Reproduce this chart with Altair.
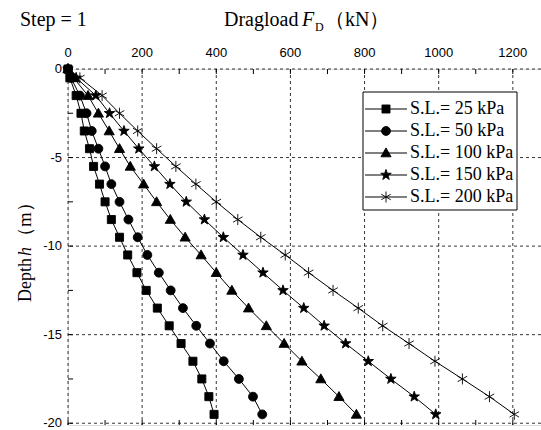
import math
import altair as alt
import pandas as pd

# ---------------- data ----------------
depth = [0, -0.5, -1.5, -2.5, -3.5, -4.5, -5.5, -6.5, -7.5, -8.5, -9.5,
         -10.5, -11.5, -12.5, -13.5, -14.5, -15.5, -16.5, -17.5, -18.5, -19.5]
sl_25 = [0, 5, 22, 35, 44, 58, 69, 85, 100, 117, 139,
         161, 186, 211, 241, 273, 305, 337, 361, 380, 394]
sl_50 = [0, 8, 32, 50, 64, 82, 100, 117, 139, 163, 188,
         214, 245, 277, 310, 346, 383, 420, 461, 499, 524]
sl_100 = [0, 15, 54, 82, 111, 139, 168, 204, 239, 276, 316,
          359, 400, 442, 487, 535, 583, 631, 682, 731, 778]
sl_150 = [0, 22, 75, 112, 151, 191, 233, 275, 319, 368, 419,
          472, 526, 580, 636, 691, 749, 810, 871, 934, 992]
sl_200 = [0, 32, 92, 139, 188, 239, 291, 345, 400, 458, 520,
          586, 649, 715, 783, 849, 920, 990, 1064, 1137, 1204]
labels = ["S.L.= 25 kPa", "S.L.= 50 kPa", "S.L.= 100 kPa",
          "S.L.= 150 kPa", "S.L.= 200 kPa"]
x_ticks_major = [0, 200, 400, 600, 800, 1000, 1200]
x_ticks_minor = list(range(0, 1201, 100))
y_ticks_major = [0, -5, -10, -15, -20]
y_ticks_minor = [0, -2.5, -5, -7.5, -10, -12.5, -15, -17.5, -20]

rows = []
for lab, vals in zip(labels, [sl_25, sl_50, sl_100, sl_150, sl_200]):
    for d, v in zip(depth, vals):
        rows.append({"series": lab, "F": v, "h": d})
df = pd.DataFrame(rows)

# ---------------- marker shapes ----------------
def star_path(R=1.3, r=0.52):
    pts = []
    for k in range(10):
        a = -math.pi / 2 + k * math.pi / 5
        rad = R if k % 2 == 0 else r
        pts.append(f"{rad*math.cos(a):.3f},{rad*math.sin(a):.3f}")
    return "M" + "L".join(pts) + "Z"

sq = "M-0.95,-0.95H0.95V0.95H-0.95Z"
circ = "M-1.05,0A1.05,1.05,0,1,1,1.05,0A1.05,1.05,0,1,1,-1.05,0Z"
tri = "M0,-1.2L1.2,0.9L-1.2,0.9Z"
star = star_path()
c30, s30 = 1.3 * math.cos(math.pi / 6), 1.3 * math.sin(math.pi / 6)
ast = (f"M0,-1.3V1.3M{-c30:.3f},{-s30:.3f}L{c30:.3f},{s30:.3f}"
       f"M{-c30:.3f},{s30:.3f}L{c30:.3f},{-s30:.3f}")
marker_paths = [sq, circ, tri, star, ast]

W, H = 473, 356
L, T = 68, 69
x_scale = alt.Scale(domain=[0, 1276], nice=False, zero=False)
y_scale = alt.Scale(domain=[-20.1, 0], nice=False, zero=False)


def X(field):
    return alt.X(field, scale=x_scale, axis=None)


def Y(field):
    return alt.Y(field, scale=y_scale, axis=None)


# ---------------- grid, ticks and tick labels (drawn through the scales) ----------------
xg = pd.DataFrame({"t": x_ticks_major, "lab": [str(v) for v in x_ticks_major]})
yg = pd.DataFrame({"t": y_ticks_major, "lab": [str(v) for v in y_ticks_major]})
xt = pd.DataFrame({"t": x_ticks_minor})
yt = pd.DataFrame({"t": y_ticks_minor})

grid_x = alt.Chart(xg).mark_rule(color="black", strokeWidth=0.8,
                                 strokeDash=[3, 3]).encode(x=X("t:Q"))
grid_y = alt.Chart(yg).mark_rule(color="black", strokeWidth=0.8,
                                 strokeDash=[3, 3]).encode(y=Y("t:Q"))
top_ticks = alt.Chart(xt).mark_rule(color="black", strokeWidth=1).encode(
    x=X("t:Q"), y=alt.value(0), y2=alt.value(5))
bot_ticks = alt.Chart(xt).mark_rule(color="black", strokeWidth=1).encode(
    x=X("t:Q"), y=alt.value(H), y2=alt.value(H - 5))
left_ticks = alt.Chart(yt).mark_rule(color="black", strokeWidth=1).encode(
    y=Y("t:Q"), x=alt.value(0), x2=alt.value(5))
x_labels = alt.Chart(xg).mark_text(font="Liberation Sans", fontSize=13,
                                   color="black", baseline="middle",
                                   align="center").encode(
    x=X("t:Q"), y=alt.value(-16), text="lab:N")
y_labels = alt.Chart(yg).mark_text(font="Liberation Sans", fontSize=13,
                                   color="black", baseline="middle",
                                   align="right").encode(
    y=Y("t:Q"), x=alt.value(-6), text="lab:N")

# ---------------- data series ----------------
base = alt.Chart(df)
lines = base.mark_line(color="black", strokeWidth=1).encode(
    x=X("F:Q"), y=Y("h:Q"), detail="series:N",
    order=alt.Order("h:Q", sort="descending"))
points = base.mark_point(fill="black", stroke="black", strokeWidth=0.9,
                         size=72, opacity=1).encode(
    x=X("F:Q"), y=Y("h:Q"),
    shape=alt.Shape("series:N", scale=alt.Scale(domain=labels, range=marker_paths),
                    legend=None))

one = pd.DataFrame({"k": [0]})


def txt(s, x, y, size=18, style="normal", angle=0, font="Liberation Serif",
        baseline="alphabetic"):
    kw = dict(text=s, font=font, fontSize=size, fontStyle=style, color="black",
              align="left", baseline=baseline)
    if angle:
        kw["angle"] = angle
    return alt.Chart(one).mark_text(**kw).encode(x=alt.value(x), y=alt.value(y))


# ---------------- legend (box, line + marker, label) ----------------
lg_box = alt.Chart(one).mark_rect(fill="white", stroke="black", strokeWidth=1).encode(
    x=alt.value(363 - L), x2=alt.value(517 - L), y=alt.value(92 - T), y2=alt.value(210 - T))
legend_layers = [lg_box]
row_y = [109, 131, 153, 175, 197]
for lab, path, ry in zip(labels, marker_paths, row_y):
    legend_layers.append(alt.Chart(one).mark_rule(color="black", strokeWidth=1).encode(
        x=alt.value(365 - L), x2=alt.value(407 - L), y=alt.value(ry - T)))
    legend_layers.append(alt.Chart(one).mark_point(
        shape=path, fill="black", stroke="black", strokeWidth=0.9, size=72, opacity=1
    ).encode(x=alt.value(386 - L), y=alt.value(ry - T)))
    legend_layers.append(txt(lab, 410 - L, ry - T, baseline="middle"))

# ---------------- titles ----------------
titles = [
    txt("Step = 1", 20 - L, 26 - T, size=20),
    txt("Dragload", 224 - L, 26 - T, size=20),
    txt("F", 302 - L, 26 - T, size=20, style="italic"),
    txt("D", 315 - L, 31 - T, size=12),
    txt("（kN）", 325 - L, 26 - T, size=20),
    txt("Depth", 31 - L, 302 - T, size=18, angle=270),
    txt("h", 31 - L, 256 - T, size=18, style="italic", angle=270),
    txt("（m）", 31 - L, 246 - T, size=19, angle=270),
]

chart = alt.layer(grid_x, grid_y, lines, points, top_ticks, bot_ticks, left_ticks,
                  x_labels, y_labels, *legend_layers, *titles).properties(
    width=W, height=H,
    autosize=alt.AutoSizeParams(type="none"),
    padding={"left": L, "top": T, "right": 0, "bottom": 5},
).configure_view(stroke="black", strokeWidth=1.5).configure(background="white")

chart.save("out.html", embed_options={"renderer": "svg", "actions": False})
